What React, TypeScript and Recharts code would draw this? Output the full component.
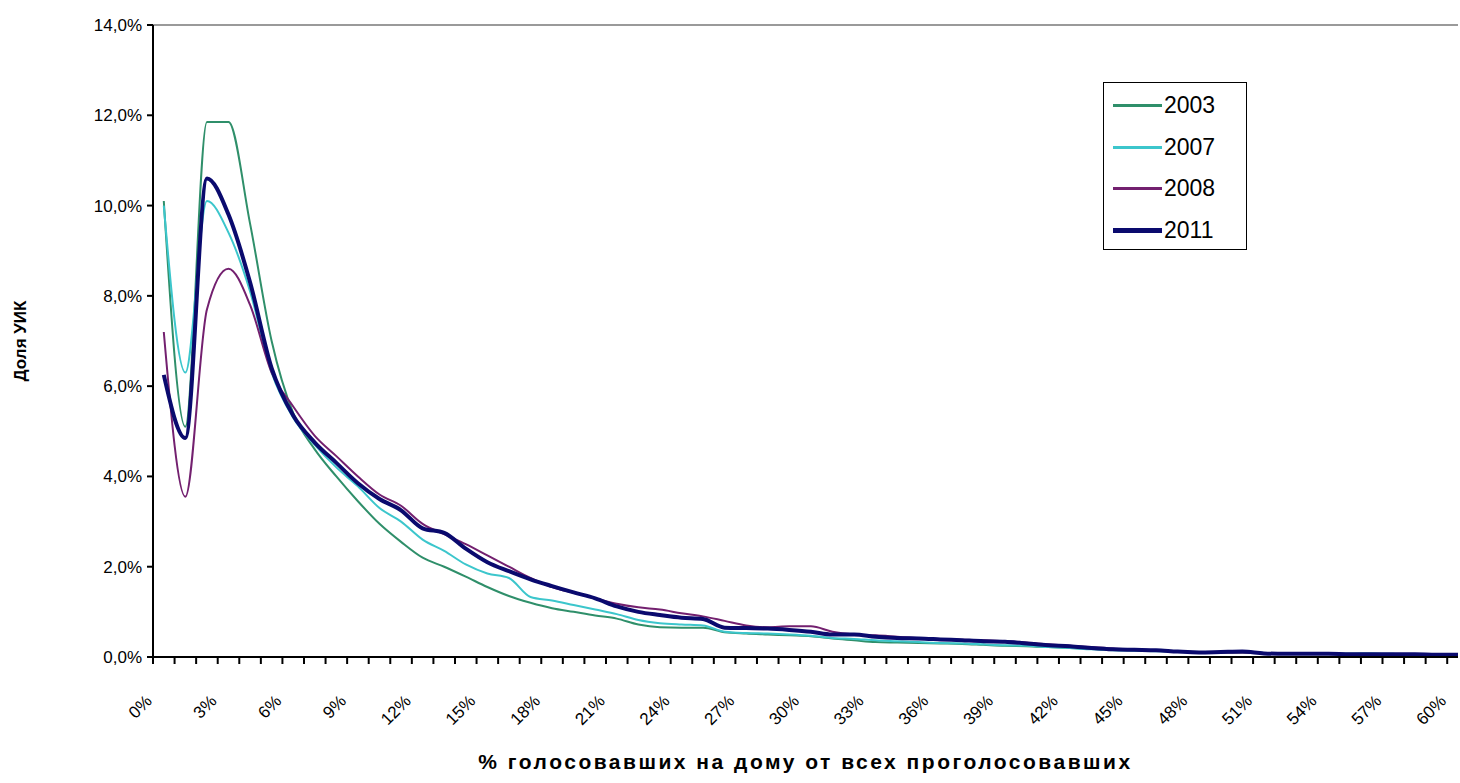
import { LineChart, Line, XAxis, YAxis, ReferenceLine } from 'recharts';

// bin centres, % of voters who voted at home
const bins = [
  0.5, 1.5, 2.5, 3.5, 4.5, 5.5, 6.5, 7.5, 8.5, 9.5,
  10.5, 11.5, 12.5, 13.5, 14.5, 15.5, 16.5, 17.5, 18.5, 19.5,
  20.5, 21.5, 22.5, 23.5, 24.5, 25.5, 26.5, 27.5, 28.5, 29.5,
  30.5, 31.5, 32.5, 33.5, 34.5, 35.5, 36.5, 37.5, 38.5, 39.5,
  40.5, 41.5, 42.5, 43.5, 44.5, 45.5, 46.5, 47.5, 48.5, 49.5,
  50.5, 51.5, 52.5, 53.5, 54.5, 55.5, 56.5, 57.5, 58.5, 59.5,
  60.5,
];

const s2003 = [
  10.1, 5.1, 11.85, 11.85, 9.6, 7.0, 5.4, 4.6, 4.0, 3.45,
  2.95, 2.55, 2.2, 2.0, 1.78, 1.55, 1.35, 1.2, 1.08, 1.0,
  0.92, 0.85, 0.72, 0.66, 0.65, 0.65, 0.55, 0.52, 0.5, 0.48,
  0.46, 0.41, 0.37, 0.33, 0.32, 0.31, 0.3, 0.29, 0.27, 0.25,
  0.24, 0.22, 0.2, 0.18, 0.16, 0.15, 0.14, 0.12, 0.11, 0.1,
  0.1, 0.09, 0.08, 0.08, 0.07, 0.07, 0.07, 0.06, 0.06, 0.05,
  0.05,
];

const s2007 = [
  10.0, 6.3, 10.1, 9.4, 8.1, 6.3, 5.3, 4.7, 4.2, 3.78,
  3.3, 3.0, 2.6, 2.35, 2.05, 1.85, 1.75, 1.33, 1.25, 1.15,
  1.05, 0.95, 0.82, 0.75, 0.72, 0.7, 0.56, 0.53, 0.52, 0.5,
  0.47, 0.42, 0.4, 0.37, 0.35, 0.33, 0.31, 0.3, 0.28, 0.26,
  0.25, 0.22, 0.2, 0.17, 0.15, 0.14, 0.13, 0.12, 0.11, 0.1,
  0.13, 0.09, 0.08, 0.08, 0.07, 0.07, 0.08, 0.07, 0.06, 0.05,
  0.05,
];

const s2008 = [
  7.2, 3.55, 7.7, 8.6, 7.8, 6.3, 5.55, 4.9, 4.45, 4.0,
  3.6, 3.35, 2.95, 2.72, 2.5, 2.25, 2.0, 1.75, 1.55, 1.42,
  1.3, 1.18, 1.1, 1.05, 0.97, 0.9, 0.8, 0.7, 0.66, 0.68,
  0.68, 0.56, 0.5, 0.48, 0.45, 0.42, 0.4, 0.38, 0.37, 0.35,
  0.32, 0.28, 0.25, 0.22, 0.19, 0.17, 0.15, 0.13, 0.11, 0.1,
  0.1, 0.09, 0.08, 0.07, 0.07, 0.06, 0.06, 0.06, 0.05, 0.05,
  0.05,
];

const s2011 = [
  6.25, 4.85, 10.6, 9.8, 8.3, 6.4, 5.35, 4.75, 4.3, 3.85,
  3.5, 3.25, 2.85, 2.75, 2.4, 2.1, 1.9, 1.72, 1.57, 1.43,
  1.3, 1.12, 1.0, 0.93, 0.87, 0.84, 0.65, 0.64, 0.63, 0.6,
  0.56, 0.5, 0.5, 0.45, 0.42, 0.41, 0.39, 0.37, 0.35, 0.34,
  0.3, 0.26, 0.24, 0.2, 0.17, 0.16, 0.15, 0.12, 0.1, 0.11,
  0.12, 0.08, 0.07, 0.07, 0.07, 0.06, 0.06, 0.06, 0.06, 0.05,
  0.05,
];

const xTicks = [
  0, 1, 2, 3, 4, 5, 6, 7, 8, 9, 10, 11, 12, 13, 14, 15, 16, 17, 18, 19, 20,
  21, 22, 23, 24, 25, 26, 27, 28, 29, 30, 31, 32, 33, 34, 35, 36, 37, 38, 39, 40,
  41, 42, 43, 44, 45, 46, 47, 48, 49, 50, 51, 52, 53, 54, 55, 56, 57, 58, 59, 60,
];
const yTicks = [0, 2, 4, 6, 8, 10, 12, 14];

const series = [
  { key: 'y2003', name: '2003', color: '#2f8f6a', width: 2 },
  { key: 'y2007', name: '2007', color: '#3cc6cc', width: 2 },
  { key: 'y2008', name: '2008', color: '#73206f', width: 2 },
  { key: 'y2011', name: '2011', color: '#0a0a6e', width: 4 },
];

const data = bins.map((p, i) => ({
  p,
  y2003: s2003[i],
  y2007: s2007[i],
  y2008: s2008[i],
  y2011: s2011[i],
}));

const FONT = '"Liberation Sans", Arial, sans-serif';

function XTick({ x, y, payload }: any) {
  const v = payload.value as number;
  if (v % 3 !== 0) return null;
  return (
    <text
      x={x}
      y={y + 36}
      transform={`rotate(-45, ${x}, ${y + 36})`}
      textAnchor="end"
      fontSize={17}
      fontFamily={FONT}
      fill="#000"
    >
      {`${v}%`}
    </text>
  );
}

function LegendBox() {
  return (
    <div
      style={{
        position: 'absolute',
        left: 1103,
        top: 82,
        border: '1px solid #000',
        background: '#fff',
        width: 144,
        height: 168,
        boxSizing: 'border-box',
        paddingTop: 2,
      }}
    >
      {series.map((s) => (
        <div key={s.key} style={{ display: 'flex', alignItems: 'center', height: 41.5 }}>
          <div style={{ width: 49, height: s.width + 1, background: s.color, marginLeft: 9 }} />
          <span style={{ fontFamily: FONT, fontSize: 23, marginLeft: 2, color: '#000' }}>{s.name}</span>
        </div>
      ))}
    </div>
  );
}

export default function App() {
  return (
    <div style={{ position: 'absolute', left: 0, top: 0, width: 1460, height: 783, background: '#fff' }}>
      <LineChart width={1460} height={783} data={data} margin={{ top: 25, right: 2, bottom: 0, left: 0 }}>
        <ReferenceLine y={14} stroke="#9a9a9a" strokeWidth={2} />
        <XAxis
          dataKey="p"
          type="number"
          domain={[0, 60.5]}
          ticks={xTicks}
          interval={0}
          height={126}
          tickSize={7}
          tick={<XTick />}
          axisLine={{ stroke: '#000', strokeWidth: 2 }}
          tickLine={{ stroke: '#000', strokeWidth: 2 }}
          label={{
            value: '% голосовавших на дому от всех проголосовавших',
            position: 'insideBottom',
            offset: 14,
            style: { fontFamily: FONT, fontSize: 21, fontWeight: 'bold', fill: '#000', letterSpacing: 2.5 },
          }}
        />
        <YAxis
          domain={[0, 14]}
          ticks={yTicks}
          interval={0}
          width={153}
          tickSize={6}
          tickMargin={5}
          tickFormatter={(v: number) => `${v.toFixed(1).replace('.', ',')}%`}
          tick={{ fontFamily: FONT, fontSize: 17, fill: '#000' }}
          axisLine={{ stroke: '#000', strokeWidth: 2 }}
          tickLine={{ stroke: '#000', strokeWidth: 2 }}
          label={{
            value: 'Доля УИК',
            angle: -90,
            position: 'insideLeft',
            offset: 20,
            style: { fontFamily: FONT, fontSize: 17, fontWeight: 'bold', fill: '#000', textAnchor: 'middle' },
          }}
        />
        {series.map((s) => (
          <Line
            key={s.key}
            dataKey={s.key}
            name={s.name}
            type="monotone"
            stroke={s.color}
            strokeWidth={s.width}
            dot={false}
            isAnimationActive={false}
          />
        ))}
      </LineChart>
      <LegendBox />
    </div>
  );
}
